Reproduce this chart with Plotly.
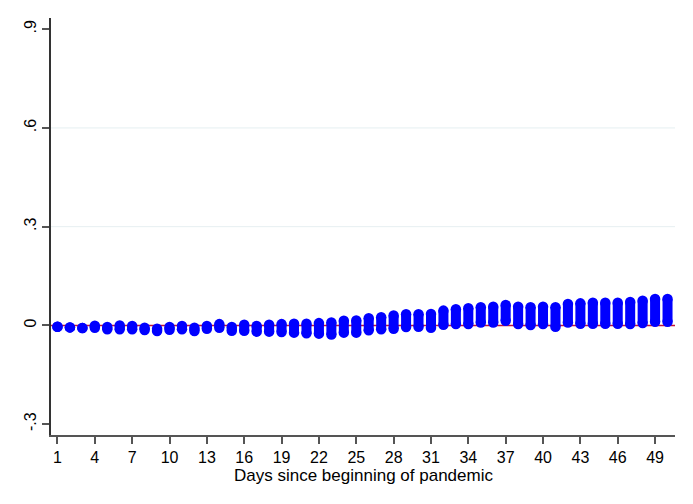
import plotly.graph_objects as go

days = list(range(1, 51))
lo = [-0.004, -0.006, -0.008, -0.007, -0.012, -0.012, -0.012, -0.014, -0.017, -0.013,
      -0.012, -0.017, -0.010, -0.007, -0.016, -0.016, -0.019, -0.019, -0.020, -0.022,
      -0.024, -0.025, -0.028, -0.022, -0.022, -0.015, -0.012, -0.010, -0.005, -0.004,
      -0.007, 0.002, 0.004, 0.004, 0.009, 0.009, 0.014, 0.004, 0.001, 0.004,
      -0.004, 0.009, 0.005, 0.005, 0.005, 0.005, 0.004, 0.007, 0.011, 0.011]
hi = [-0.004, -0.006, -0.008, -0.001, -0.005, 0.000, -0.002, -0.007, -0.010, -0.005,
      -0.002, -0.007, -0.002, 0.004, -0.005, 0.002, -0.002, 0.002, 0.004, 0.005,
      0.005, 0.007, 0.009, 0.014, 0.015, 0.022, 0.025, 0.030, 0.034, 0.034,
      0.035, 0.045, 0.049, 0.052, 0.055, 0.057, 0.062, 0.057, 0.055, 0.057,
      0.055, 0.065, 0.067, 0.069, 0.069, 0.069, 0.071, 0.075, 0.080, 0.080]

x_ticks = list(range(1, 51, 3))
y_ticks = [-0.3, 0, 0.3, 0.6, 0.9]
y_tick_text = ["-.3", "0", ".3", ".6", ".9"]
grid_vals = [0.3, 0.6]
ref_val = 0
x_title = "Days since beginning of pandemic"

xs, ys = [], []
for d, a, b in zip(days, lo, hi):
    xs += [d, d, None]
    ys += [a, b, None]

fig = go.Figure()
fig.add_trace(go.Scatter(
    x=xs, y=ys, mode="lines+markers",
    line=dict(color="#0000FF", width=10),
    marker=dict(color="#0000FF", size=10.5, line=dict(width=0)),
    connectgaps=False, hoverinfo="skip", showlegend=False,
))

shapes = []
for g in grid_vals:
    shapes.append(dict(type="line", xref="paper", x0=0, x1=1, yref="y", y0=g, y1=g,
                       line=dict(color="#E6EFF1", width=1), layer="below"))
shapes.append(dict(type="line", xref="paper", x0=0, x1=1, yref="y", y0=ref_val, y1=ref_val,
                   line=dict(color="#C0143C", width=1.5), layer="below"))

font = "Liberation Sans, Arial, sans-serif"
# page body has an 8px default margin: figure is 685x496 placed at (8, 8)
fig.update_layout(
    width=685, height=496,
    margin=dict(l=43, r=18, t=10, b=69, autoexpand=False),
    paper_bgcolor="white", plot_bgcolor="white",
    shapes=shapes,
    font=dict(family=font, size=16, color="black"),
    annotations=[dict(text=x_title, xref="paper", yref="paper", x=0.5, y=-0.098,
                      xanchor="center", yanchor="middle", showarrow=False,
                      font=dict(size=17, color="black"))],
    xaxis=dict(
        range=[0.48, 50.6], tickmode="array", tickvals=x_ticks,
        ticks="outside", ticklen=7, tickwidth=1.5, tickcolor="#555555",
        showline=True, linecolor="#555555", linewidth=1.5,
        showgrid=False, zeroline=False, automargin=False,
        tickfont=dict(size=16),
    ),
    yaxis=dict(
        range=[-0.333, 0.934], tickmode="array", tickvals=y_ticks, ticktext=y_tick_text,
        tickangle=-90, automargin=False,
        ticks="outside", ticklen=7, tickwidth=1.5, tickcolor="#555555",
        showline=True, linecolor="#333333", linewidth=1.5,
        showgrid=False, zeroline=False,
        tickfont=dict(size=16),
    ),
)

fig.write_html("out.html")
